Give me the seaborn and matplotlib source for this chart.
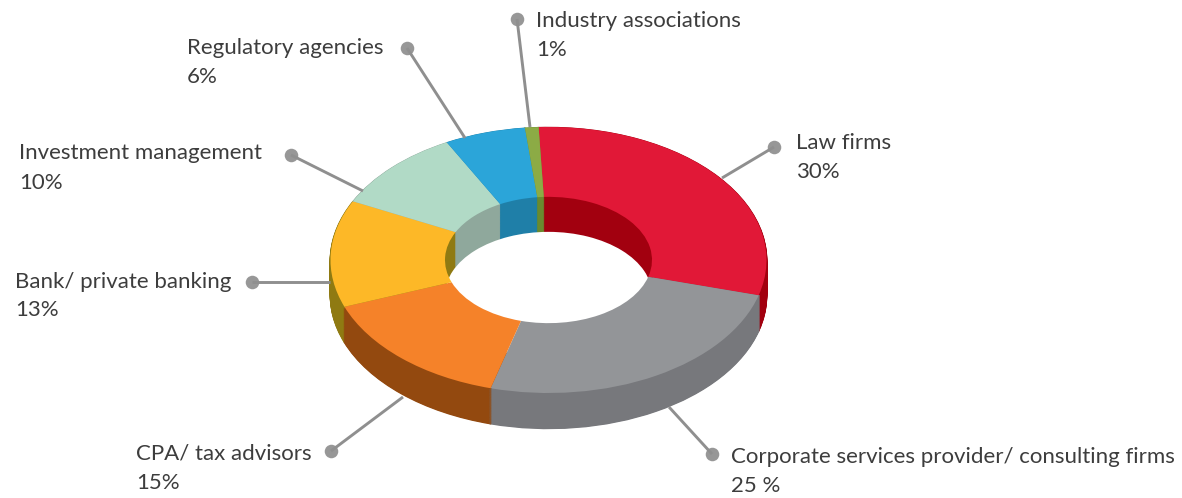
import matplotlib
matplotlib.use("Agg")
import matplotlib.pyplot as plt
import seaborn as sns

# slices, clockwise from the top
names = ["Law firms", "Corporate services provider/ consulting firms", "CPA/ tax advisors",
         "Bank/ private banking", "Investment management", "Regulatory agencies", "Industry associations"]
shares = [30, 25, 15, 13, 10, 6, 1]
share_text = ["30%", "25 %", "15%", "13%", "10%", "6%", "1%"]
top_colors = ["#e11837", "#939598", "#f58229", "#fdb827", "#b1dac6", "#2ba5d9", "#8cab45"]
wall_colors = ["#a2000f", "#77787c", "#93490f", "#8f7a12", "#8fa89c", "#1f7fa8", "#6a8a2f"]

# layout in pixels
label_xy = [(796, 143), (731, 457), (136, 453), (15, 282), (19, 153), (187, 48), (536, 21)]
second_row = [29, 29, 30, 28, 30, 29, 29]
leaders = [((774, 147), (722, 178)), ((712, 454), (669, 407)), ((331, 451), (403, 397)),
           ((252, 282), (330, 282)), ((291, 155), (363, 191)), ((407, 48), (465, 138)),
           ((517, 19), (530, 127))]

sns.set_theme(style="white")
plt.rcParams["font.family"] = ["Lato", "DejaVu Sans"]

W, H = 1182, 498
squash = 133 / 218  # ellipse ratio of the tilted ring
cx, cy = 548.5, (H - 260) / squash
outer, inner = 218, 103.5
depth = 35 / squash
start = 92.6

fig = plt.figure(figsize=(W / 100, H / 100), dpi=100)
ax = fig.add_axes([0, 0, 1, 1])

# side of the ring: stacked copies going down
for d in range(int(depth) + 1, 0, -1):
    ax.pie(shares, colors=wall_colors, startangle=start, counterclock=False, radius=outer,
           center=(cx, cy - d), wedgeprops=dict(linewidth=1.2))
    for w in ax.patches[-len(shares):]:
        w.set_edgecolor(w.get_facecolor())

# inner wall: thin rings going down, so the colour changes run straight down
for d in range(0, int(depth) + 1):
    ax.pie(shares, colors=wall_colors, startangle=start, counterclock=False, radius=inner,
           center=(cx, cy - d), wedgeprops=dict(width=3, linewidth=0.6))
    for w in ax.patches[-len(shares):]:
        w.set_edgecolor(w.get_facecolor())
ax.pie([1], colors=["white"], radius=inner, center=(cx, cy - depth), wedgeprops=dict(linewidth=0))

# top face goes last and hides the low part of the hole
ax.pie(shares, colors=top_colors, startangle=start, counterclock=False, radius=outer,
       center=(cx, cy), wedgeprops=dict(width=outer - inner, linewidth=0))

ax.set_aspect("auto")
ax.set_xlim(0, W)
ax.set_ylim(0, H / squash)
ax.axis("off")

# labels and leader lines, in pixel coordinates
over = fig.add_axes([0, 0, 1, 1])
over.patch.set_alpha(0)
for (p0, p1) in leaders:
    over.plot([p0[0], p1[0]], [p0[1], p1[1]], color="#8f8f8f", lw=2.1, solid_capstyle="butt")
sns.scatterplot(x=[l[0][0] for l in leaders], y=[l[0][1] for l in leaders], ax=over,
                s=95, color="#979797", linewidth=0, legend=False)
for name, txt, (x, y), dy in zip(names, share_text, label_xy, second_row):
    over.text(x, y, name, fontsize=16, color="#3d3d3d", va="center", ha="left")
    over.text(x, y + dy, txt, fontsize=16, color="#3d3d3d", va="center", ha="left")
over.set_xlim(0, W)
over.set_ylim(H, 0)
over.axis("off")

fig.savefig("out.png", dpi=100)
